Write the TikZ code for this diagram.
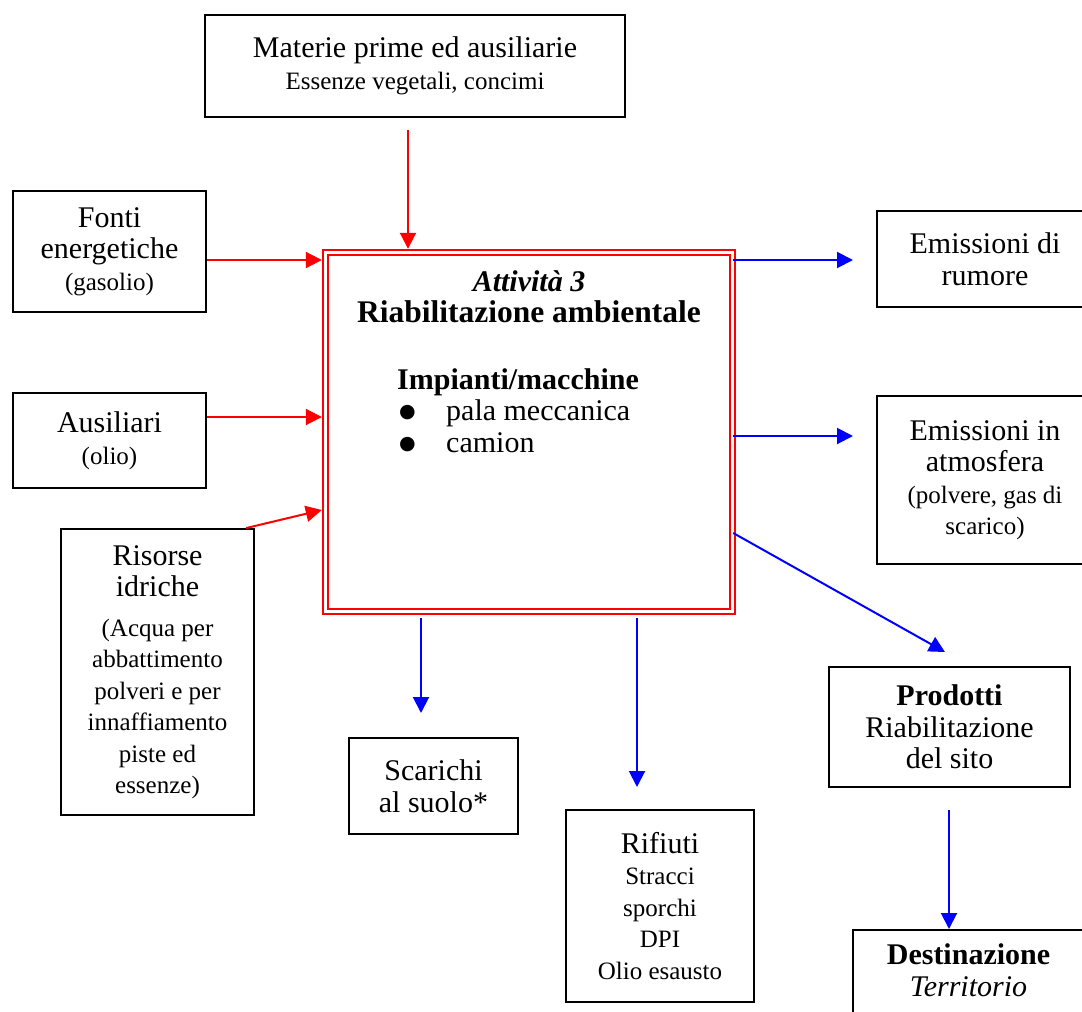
\documentclass[tikz,border=0pt]{standalone}
\usepackage{fontspec}
\setmainfont{Liberation Serif}
\newfontfamily\dejavu{DejaVu Sans}
\usetikzlibrary{arrows.meta}
\newcommand\Lsz{\fontsize{30}{31.5}\selectfont}
\newcommand\Ssz{\fontsize{25}{32}\selectfont}
\newcommand\bigbul{\raisebox{3pt}{\dejavu\fontsize{19}{19}\selectfont ●}}
\begin{document}
\begin{tikzpicture}[x=1pt,y=-1pt,
  box/.style={draw=black, line width=1.8pt, align=center, inner sep=0pt, font=\Lsz},
  redarr/.style={draw=red, line width=2pt, -{Triangle[length=16pt,width=16pt]}},
  bluearr/.style={draw=blue, line width=2pt, -{Triangle[length=16pt,width=16pt]}},
  mainbox/.style={draw=red, double=white, double distance=3pt, line width=2.2pt, outer sep=3.7pt, inner sep=0pt}]
\useasboundingbox (0,0) rectangle (1082,1012);
\clip (0,0) rectangle (1082,1012);
\fill[white] (0,0) rectangle (1082,1012);

% main activity box
\node[mainbox, minimum width=407pt, minimum height=359pt] (main) at (529,432) {};
\node[anchor=north, align=center, inner sep=0pt, font=\Lsz] (title) at (529,270)
  {\textbf{\textit{Attività 3}}\\ {\fontsize{31.5}{31.5}\selectfont\textbf{Riabilitazione ambientale}}};
\node[anchor=north west, align=left, inner sep=0pt, font=\Lsz] (equip) at (397,368)
  {\textbf{Impianti/macchine}\\
   \makebox[49pt][l]{\hspace{2pt}\bigbul}pala meccanica\\
   \makebox[49pt][l]{\hspace{2pt}\bigbul}camion};

% input boxes
\node[box, minimum width=420pt, minimum height=102pt] (materie) at (415,66)
  {Materie prime ed ausiliarie\\ \Ssz Essenze vegetali, concimi};
\node[box, minimum width=193pt, minimum height=121pt] (fonti) at (109.5,251.5)
  {Fonti\\ energetiche\\ \Ssz (gasolio)};
\node[box, minimum width=193pt, minimum height=95pt] (ausiliari) at (109.5,440.5)
  {Ausiliari\\ \Ssz (olio)};
\node[box, minimum width=193pt, minimum height=286pt] (risorse) at (157.5,672)
  {Risorse\\ idriche\\[8pt] \Ssz (Acqua per\\ \Ssz abbattimento\\ \Ssz polveri e per\\ \Ssz innaffiamento\\ \Ssz piste ed\\ \Ssz essenze)};

% output boxes
\node[box, minimum width=216pt, minimum height=96pt] (rumore) at (985,259)
  {Emissioni di\\ rumore};
\node[box, minimum width=216pt, minimum height=168pt] (atmosfera) at (985,480)
  {Emissioni in\\ atmosfera\\ \Ssz (polvere, gas di\\ \Ssz scarico)};
\node[box, minimum width=241pt, minimum height=120pt] (prodotti) at (949.5,727)
  {\textbf{Prodotti}\\ Riabilitazione\\ del sito};
\node[box, minimum width=169pt, minimum height=96pt] (scarichi) at (433.5,786)
  {Scarichi\\ al suolo*};
\node[box, minimum width=188pt, minimum height=192pt] (rifiuti) at (660,906)
  {Rifiuti\\ \Ssz Stracci\\ \Ssz sporchi\\ \Ssz DPI\\ \Ssz Olio esausto};
\node[box, anchor=north, minimum width=231pt, inner ysep=14pt] (dest) at (968.5,929)
  {\textbf{Destinazione}\\ \textit{Territorio}\rule[-70pt]{0pt}{0pt}};

% free ends
\coordinate (m0) at (408,130);
\coordinate (e1) at (853,260);
\coordinate (e2) at (853,436);
\coordinate (e3) at (945,652);
\coordinate (e4) at (421,713);
\coordinate (e5) at (637,787);
\coordinate (p0) at (949,810);

% input arrows
\draw[redarr] (m0) -- (m0 |- main.north);
\draw[redarr] ([yshift=-8.5pt]fonti.east) -- ([yshift=-8.5pt]fonti.east -| main.west);
\draw[redarr] ([yshift=23.5pt]ausiliari.east) -- ([yshift=23.5pt]ausiliari.east -| main.west);
\draw[redarr] ([xshift=88.5pt]risorse.north) -- ([yshift=-78pt]main.west);

% output arrows
\draw[bluearr] ([xshift=-3pt,yshift=172pt]main.east) -- (e1);
\draw[bluearr] ([xshift=-3pt,yshift=-4pt]main.east) -- (e2);
\draw[bluearr] ([xshift=-3pt,yshift=-101pt]main.east) -- (e3);
\draw[bluearr] ([xshift=-108pt,yshift=-3pt]main.south) -- (e4);
\draw[bluearr] ([xshift=108pt,yshift=-3pt]main.south) -- (e5);
\draw[bluearr] (p0) -- (p0 |- dest.north);
\end{tikzpicture}
\end{document}
